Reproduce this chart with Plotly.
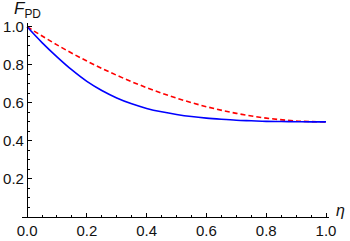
import plotly.graph_objects as go

# data
eta_blue = [0.0, 0.05, 0.1, 0.15, 0.2, 0.25, 0.3, 0.35, 0.4, 0.45, 0.5, 0.55, 0.6, 0.65, 0.7, 0.75, 0.8, 0.85, 0.9, 0.95, 1.0]
f_blue = [1.0, 0.917, 0.842, 0.773, 0.713, 0.665, 0.626, 0.595, 0.571, 0.553, 0.539, 0.528, 0.52, 0.514, 0.509, 0.506, 0.503, 0.502, 0.501, 0.5, 0.5]

eta_red = [0.0, 0.1, 0.2, 0.3, 0.4, 0.5, 0.6, 0.7, 0.8, 0.9, 1.0]
f_red = [1.0, 0.905, 0.82, 0.745, 0.68, 0.625, 0.58, 0.545, 0.52, 0.505, 0.5]

x_ticks = [0.0, 0.2, 0.4, 0.6, 0.8, 1.0]
x_ticklabels = ["0.0", "0.2", "0.4", "0.6", "0.8", "1.0"]
y_ticks = [0.2, 0.4, 0.6, 0.8, 1.0]
y_ticklabels = ["0.2", "0.4", "0.6", "0.8", "1.0"]

XMIN, XMAX = -0.017, 1.01
YMIN, YMAX = 0.0, 1.02

fig = go.Figure()
fig.add_trace(go.Scatter(x=eta_red, y=f_red, mode="lines", line=dict(color="#FF0000", width=1.6, dash="5px,3px", shape="spline"), showlegend=False))
fig.add_trace(go.Scatter(x=eta_blue, y=f_blue, mode="lines", line=dict(color="#0000FF", width=1.6, shape="spline"), showlegend=False))

FAM = "Liberation Sans, Arial, sans-serif"
font = dict(family=FAM, size=15, color="#111111")

fig.update_layout(
    width=350, height=241,
    margin=dict(l=22, r=21, t=23, b=24, autoexpand=False),
    paper_bgcolor="white", plot_bgcolor="white",
    font=font,
    xaxis=dict(
        range=[XMIN, XMAX], domain=[0, 1], automargin=False,
        showgrid=False, zeroline=False,
        showline=True, linecolor="black", linewidth=1.2,
        ticks="inside", ticklen=4, tickwidth=1, tickcolor="black",
        tickvals=x_ticks, ticktext=x_ticklabels,
        minor=dict(dtick=0.05, tick0=0, ticks="inside", ticklen=2, tickcolor="black", showgrid=False),
        anchor="y",
        tickfont=font,
    ),
    yaxis=dict(
        range=[YMIN, YMAX], domain=[0, 1], automargin=False,
        showgrid=False, zeroline=False,
        showline=True, linecolor="black", linewidth=1.2,
        ticks="inside", ticklen=4, tickwidth=1, tickcolor="black",
        tickvals=y_ticks, ticktext=y_ticklabels,
        minor=dict(dtick=0.05, tick0=0, ticks="inside", ticklen=2, tickcolor="black", showgrid=False),
        anchor="free", position=(0 - XMIN) / (XMAX - XMIN),
        tickfont=font,
    ),
    annotations=[
        dict(text="<i>F</i><sub>PD</sub>", xref="paper", yref="paper",
             x=(0 - XMIN) / (XMAX - XMIN), y=1.0, xanchor="center", yanchor="bottom",
             showarrow=False, font=dict(family=FAM, size=17, color="#111111"), xshift=0, yshift=0),
        dict(text="<i>η</i>", xref="paper", yref="paper",
             x=1.0, y=0.0, xanchor="left", yanchor="bottom",
             showarrow=False, font=dict(family=FAM, size=16, color="#111111"), xshift=5, yshift=-4),
    ],
)

fig.write_html("out.html", config={"displayModeBar": False},
               post_script="document.body.style.margin='0';document.body.style.padding='0';")
